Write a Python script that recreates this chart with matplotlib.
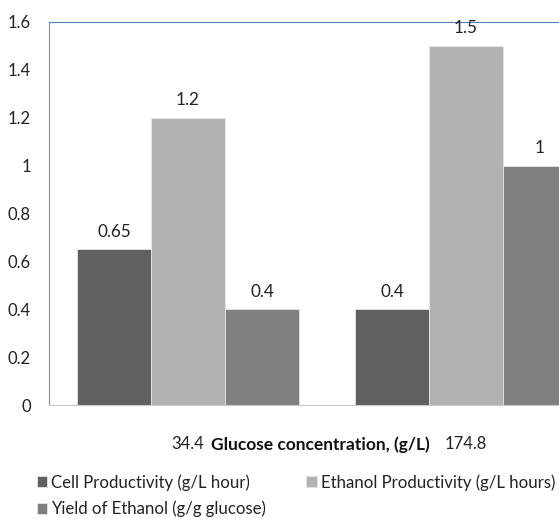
import numpy as np
import matplotlib
matplotlib.use("Agg")
import matplotlib.pyplot as plt

plt.rcParams['font.family'] = ['Lato', 'DejaVu Sans']

# --- data ---
glucose = ["34.4", "174.8"]
cell_productivity = [0.65, 0.4]
ethanol_productivity = [1.2, 1.5]
ethanol_yield = [0.4, 1.0]

series_names = ["Cell Productivity (g/L hour)",
                "Ethanol Productivity (g/L hours)",
                "Yield of Ethanol (g/g glucose)"]
series_colors = ["#606060", "#b2b2b2", "#808080"]

fig = plt.figure(figsize=(5.59, 5.19), dpi=100)
# plot area runs off the right edge of the picture, like the cropped original
ax = fig.add_axes([49 / 559, 1 - 405 / 519, 556 / 559, 383 / 519])

x = np.arange(len(glucose))
width = 0.266
bars = []
for i, (vals, name, col) in enumerate(zip(
        [cell_productivity, ethanol_productivity, ethanol_yield],
        series_names, series_colors)):
    b = ax.bar(x + (i - 1) * width, vals, width, color=col, label=name,
               edgecolor="#e6e6e6", linewidth=0.6)
    ax.bar_label(b, fmt="%g", padding=7, fontsize=12.3, color="#222222")
    bars.append(b)

ax.set_xlim(-0.5, 1.5)
ax.set_ylim(0, 1.6)
ax.set_yticks(np.arange(0, 1.61, 0.2))
ax.set_yticklabels(["0", "0.2", "0.4", "0.6", "0.8", "1", "1.2", "1.4", "1.6"])
ax.tick_params(axis="y", length=0, pad=13, labelsize=12, labelcolor="#222222")

ax.set_xticks(x)
ax.set_xticklabels(glucose)
ax.tick_params(axis="x", length=0, pad=22, labelsize=12, labelcolor="#222222")

fig.text(320 / 559, 1 - 445 / 519, "Glucose concentration, (g/L)", ha="center",
         va="center", fontsize=12.5, fontweight="bold", color="#111111")

ax.spines["top"].set_color("#4f81bd")
ax.spines["top"].set_linewidth(0.8)
ax.spines["left"].set_color("#8c8c8c")
ax.spines["bottom"].set_color("#c8c8c8")
ax.spines["right"].set_visible(False)

# legend filled row-wise
handles = [bars[0], bars[2], bars[1]]
labels = [series_names[0], series_names[2], series_names[1]]
fig.legend(handles, labels, ncol=2, frameon=False, loc="upper left",
           bbox_to_anchor=(37 / 559, 1 - 474 / 519), fontsize=12.1,
           handlelength=0.6, handleheight=0.6, handletextpad=0.25,
           columnspacing=2.4, labelspacing=0.6, borderpad=0, borderaxespad=0,
           labelcolor="#222222")

fig.savefig("out.png", dpi=100)
